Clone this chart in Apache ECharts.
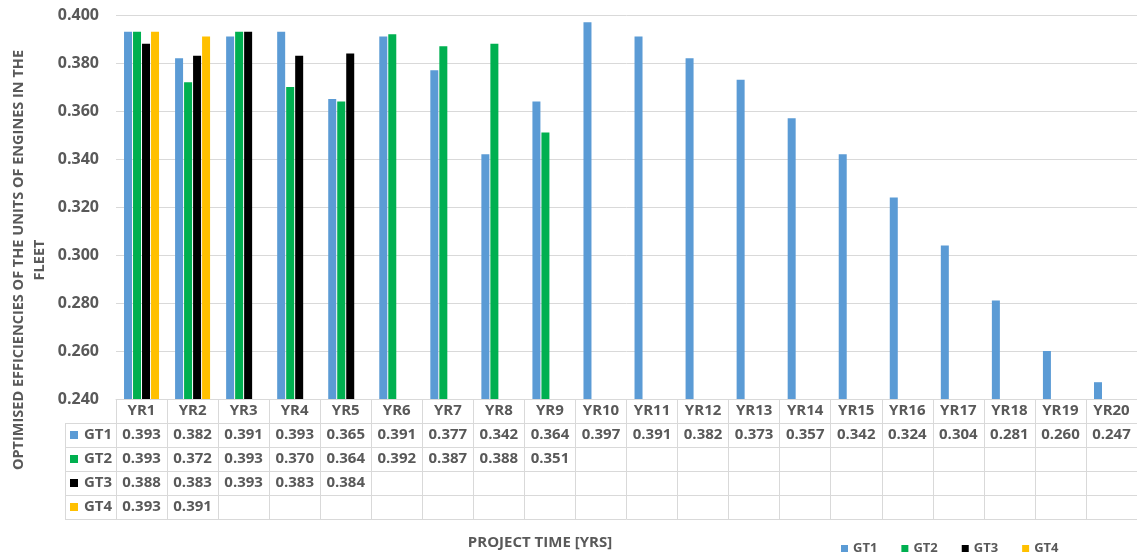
<!DOCTYPE html>
<html>
<head>
<meta charset="utf-8">
<script src="https://cdn.jsdelivr.net/npm/echarts@6/dist/echarts.min.js"></script>
<style>
html,body{margin:0;padding:0;background:#fff;}
#chart{width:1137px;height:555px;}
</style>
</head>
<body>
<div id="chart"></div>
<script>
// ---- data ----
const years = ['YR1','YR2','YR3','YR4','YR5','YR6','YR7','YR8','YR9','YR10','YR11','YR12','YR13','YR14','YR15','YR16','YR17','YR18','YR19','YR20'];
const seriesNames = ['GT1','GT2','GT3','GT4'];
const gt1 = [0.393,0.382,0.391,0.393,0.365,0.391,0.377,0.342,0.364,0.397,0.391,0.382,0.373,0.357,0.342,0.324,0.304,0.281,0.260,0.247];
const gt2 = [0.393,0.372,0.393,0.370,0.364,0.392,0.387,0.388,0.351,null,null,null,null,null,null,null,null,null,null,null];
const gt3 = [0.388,0.383,0.393,0.383,0.384,null,null,null,null,null,null,null,null,null,null,null,null,null,null,null];
const gt4 = [0.393,0.391,null,null,null,null,null,null,null,null,null,null,null,null,null,null,null,null,null,null];
const yTicks = {min:0.24, max:0.40, interval:0.02};
const yTitle = 'OPTIMISED EFFICIENCIES OF THE UNITS OF ENGINES IN THE\nFLEET';
const xTitle = 'PROJECT TIME [YRS]';

// ---- style ----
const rows = [gt1, gt2, gt3, gt4];
const colors = ['#5B9BD5','#00B050','#000000','#FFC000'];
const FONT = '"Open Sans", "Liberation Sans", sans-serif';
const TXT = '#595959';
const LINE = '#d9d9d9';
const GRID_LEFT = 116, GRID_TOP = 15, GRID_BOTTOM = 156, H = 555;
const AXIS_Y = H - GRID_BOTTOM;
const ROW_H = 24;
const COL_LEFT = 65;

const chart = echarts.init(document.getElementById('chart'), null, {renderer:'canvas'});

function tableAxis(data, offset, showLabel) {
  return {
    type:'category', gridIndex:0, position:'bottom', offset: offset,
    data: data,
    axisLine:{show:true, lineStyle:{color:LINE, width:1}},
    axisTick:{show: showLabel, length:ROW_H, interval:0, lineStyle:{color:LINE}},
    axisLabel:{show: showLabel, interval:0, margin:4, fontSize:15, fontWeight:'bold', color:TXT, fontFamily:FONT},
    splitLine:{show:false}
  };
}

const xAxes = [tableAxis(years, 0, true)];
rows.forEach((r, i) => {
  xAxes.push(tableAxis(r.map(v => v == null ? '' : v.toFixed(3)), ROW_H*(i+1), true));
});
xAxes.push(tableAxis(years.map(() => ''), ROW_H*5, false));

const graphics = [];
// left column of the data table
graphics.push({type:'line', shape:{x1:COL_LEFT+0.5, y1:AXIS_Y+ROW_H, x2:COL_LEFT+0.5, y2:AXIS_Y+ROW_H*5}, style:{stroke:LINE, lineWidth:1}});
for (let i = 1; i <= 5; i++) {
  graphics.push({type:'line', shape:{x1:COL_LEFT, y1:AXIS_Y+ROW_H*i+0.5, x2:GRID_LEFT, y2:AXIS_Y+ROW_H*i+0.5}, style:{stroke:LINE, lineWidth:1}});
}
seriesNames.forEach((n, i) => {
  const cy = AXIS_Y + ROW_H*(i+1) + ROW_H/2;
  graphics.push({type:'rect', shape:{x:70, y:cy-4, width:8, height:8}, style:{fill:colors[i]}});
  graphics.push({type:'text', x:84, y:cy, style:{text:n, fontSize:15, fontWeight:'bold', fill:TXT, fontFamily:FONT, textVerticalAlign:'middle', textAlign:'left'}});
});
// axis titles
graphics.push({type:'text', x:29, y:260, rotation:Math.PI/2,
  style:{text:yTitle, fontSize:14.5, fontWeight:'bold', fill:TXT, fontFamily:FONT, textAlign:'center', textVerticalAlign:'middle', lineHeight:21}});
graphics.push({type:'text', x:540, y:543,
  style:{text:xTitle, fontSize:15, fontWeight:'bold', fill:TXT, fontFamily:FONT, textAlign:'center', textVerticalAlign:'middle'}});

const option = {
  animation:false,
  backgroundColor:'#fff',
  color: colors,
  grid:{left:GRID_LEFT, right:0, top:GRID_TOP, bottom:GRID_BOTTOM, containLabel:false},
  legend:{
    data: seriesNames, left:836, top:537, icon:'rect', itemWidth:7, itemHeight:7, itemGap:24,
    textStyle:{fontSize:13, fontWeight:'bold', color:TXT, fontFamily:FONT}
  },
  xAxis: xAxes,
  yAxis:{
    type:'value', min:yTicks.min, max:yTicks.max, interval:yTicks.interval,
    axisLine:{show:false}, axisTick:{show:false},
    axisLabel:{formatter: v => v.toFixed(3), fontSize:16, fontWeight:'bold', color:TXT, fontFamily:FONT, margin:17},
    splitLine:{show:true, lineStyle:{color:LINE, width:1}}
  },
  series: rows.map((r, i) => ({
    name: seriesNames[i], type:'bar', xAxisIndex:0, data:r,
    barWidth:8, barGap:'12.5%',
    itemStyle:{color:colors[i]}
  })),
  graphic: graphics
};
chart.setOption(option);
</script>
</body>
</html>
